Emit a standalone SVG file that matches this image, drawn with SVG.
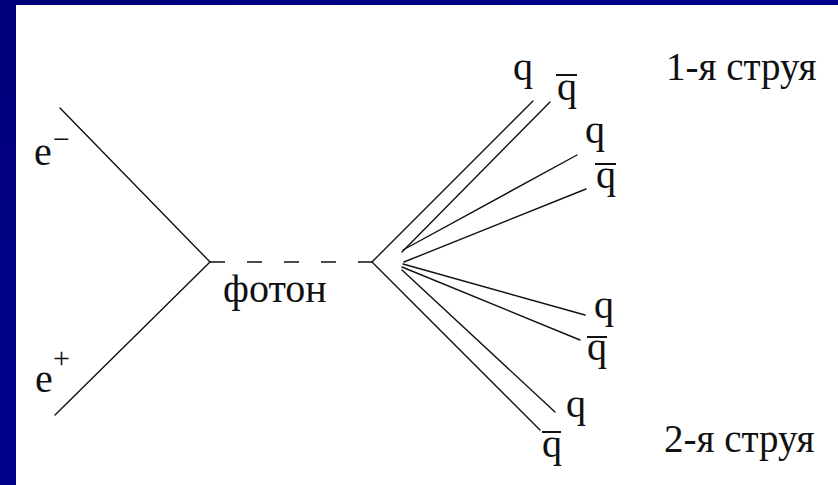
<svg xmlns="http://www.w3.org/2000/svg" width="838" height="485" viewBox="0 0 838 485">
<defs>
<linearGradient id="bg" x1="0" y1="0" x2="1" y2="1">
<stop offset="0" stop-color="#00007a"/>
<stop offset="0.5" stop-color="#00008c"/>
<stop offset="1" stop-color="#000080"/>
</linearGradient>
<style>
.ln{stroke:#111;stroke-width:1.4;fill:none;stroke-linecap:round}
.dash{stroke:#111;stroke-width:1.6;fill:none;stroke-dasharray:15 22}
.bar{stroke:#111;stroke-width:2}
.t{font-family:"Liberation Serif","Times New Roman",serif;fill:#111;font-size:40px}
.s{font-family:"Liberation Serif","Times New Roman",serif;fill:#111;font-size:30px}
.j{font-family:"Liberation Serif","Times New Roman",serif;fill:#111;font-size:39px}
</style>
</defs>
<rect x="0" y="0" width="838" height="485" fill="url(#bg)"/>
<rect x="16" y="5" width="822" height="480" fill="#ffffff"/>

<g id="connectors">
<line class="ln" x1="60" y1="108" x2="210" y2="262"/>
<line class="ln" x1="55" y1="415" x2="210" y2="262"/>
<line class="dash" x1="210" y1="262" x2="372" y2="262"/>
<line class="ln" x1="372" y1="262" x2="533" y2="101"/>
<line class="ln" x1="402" y1="252" x2="550" y2="102"/>
<line class="ln" x1="403" y1="250" x2="577" y2="155"/>
<line class="ln" x1="404" y1="262" x2="586" y2="189"/>
<line class="ln" x1="403" y1="264" x2="585" y2="315"/>
<line class="ln" x1="402" y1="267" x2="580" y2="340"/>
<line class="ln" x1="402" y1="270" x2="555" y2="412"/>
<line class="ln" x1="372" y1="262" x2="540" y2="430"/>
</g>

<g id="electron"><text class="t" x="34" y="165">e</text><text class="s" x="53" y="149">−</text></g>
<g id="positron"><text class="t" x="35" y="392">e</text><text class="s" x="53" y="368">+</text></g>
<g id="photon"><text class="t" x="223" y="302">фотон</text></g>

<g id="q1"><text class="t" x="513" y="80">q</text></g>
<g id="qbar2"><line class="bar" x1="556" y1="75" x2="577" y2="75"/><text class="t" x="557" y="100">q</text></g>
<g id="q3"><text class="t" x="585" y="143">q</text></g>
<g id="qbar4"><line class="bar" x1="595" y1="164" x2="616" y2="164"/><text class="t" x="596" y="188">q</text></g>
<g id="q5"><text class="t" x="594" y="318">q</text></g>
<g id="qbar6"><line class="bar" x1="587" y1="337" x2="607" y2="337"/><text class="t" x="587" y="360">q</text></g>
<g id="q7"><text class="t" x="566" y="417">q</text></g>
<g id="qbar8"><line class="bar" x1="542" y1="432" x2="561" y2="432"/><text class="t" x="542" y="457">q</text></g>

<g id="jet1"><text class="j" x="666" y="80">1-я струя</text></g>
<g id="jet2"><text class="j" x="664" y="452">2-я струя</text></g>
</svg>
